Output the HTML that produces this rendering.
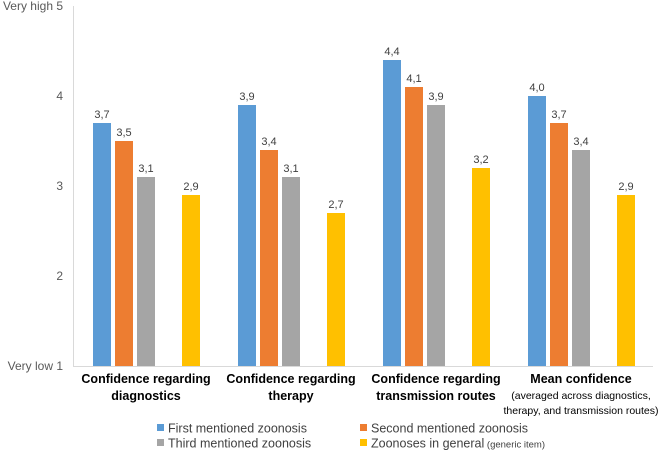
<!DOCTYPE html>
<html><head><meta charset="utf-8"><style>
body{margin:0;background:#fff;font-family:"Liberation Sans",sans-serif}
svg text{font-family:"Liberation Sans",sans-serif}
</style></head><body>
<svg id="chart" width="669" height="451">
<g id="axes"></g><g id="bars"></g><g id="labels"></g><g id="legend"></g>
</svg>
<script>
const categories=[["Confidence regarding","diagnostics"],["Confidence regarding","therapy"],["Confidence regarding","transmission routes"],["Mean confidence",""]];
const first=[3.7,3.9,4.4,4.0];
const second=[3.5,3.4,4.1,3.7];
const third=[3.1,3.1,3.9,3.4];
const general=[2.9,2.7,3.2,2.9];
const ticks=[1,2,3,4,5];
const seriesNames=["First mentioned zoonosis","Second mentioned zoonosis","Third mentioned zoonosis","Zoonoses in general"];
const colors=["#5b9bd5","#ed7d31","#a5a5a5","#ffc000"];
const NS="http://www.w3.org/2000/svg";
function y(v){return 366-(v-1)*90;}
function gx(i){return 93+i*145;}
const offs=[0,22,44,89];
function mk(tag,attrs,parent,txt){const e=document.createElementNS(NS,tag);for(const k in attrs)e.setAttribute(k,attrs[k]);if(txt!==undefined)e.textContent=txt;parent.appendChild(e);return e;}
const axes=document.getElementById('axes'),bars=document.getElementById('bars'),labels=document.getElementById('labels'),legend=document.getElementById('legend');
let l=mk('line',{x1:73.5,y1:6,x2:73.5,y2:366.5,stroke:'#d9d9d9'},axes);


l=mk('line',{x1:73,y1:366.5,x2:653,y2:366.5,stroke:'#d9d9d9'},axes);


ticks.forEach(t=>{
  let lab=t===5?"Very high  5":t===1?"Very low  1":String(t);
  let e=mk('text',{x:63,y:y(t)+4,'text-anchor':'end','font-size':12,fill:'#595959'},axes,lab);
  
  
});
const series=[first,second,third,general];
series.forEach((s,si)=>{s.forEach((v,i)=>{
  const x=gx(i)+offs[si];
  let r=mk('rect',{x:x,y:y(v),width:18,height:366-y(v),fill:colors[si]},bars);
  
  
  let t=mk('text',{x:x+9,y:y(v)-5,'text-anchor':'middle','font-size':11,fill:'#404040'},labels,v.toFixed(1).replace('.',','));
  
  
});});
categories.forEach((c,i)=>{
  const cx=gx(i)+53;
  let t=mk('text',{x:cx,y:383,'text-anchor':'middle','font-size':12.5,'font-weight':'bold',fill:'#000'},labels,c[0]);
  
  
  if(c[1]){t=mk('text',{x:cx,y:400,'text-anchor':'middle','font-size':12.5,'font-weight':'bold',fill:'#000'},labels,c[1]);
  
  }
});
let sub=mk('text',{x:gx(3)+53,y:399,'text-anchor':'middle','font-size':10.5,fill:'#000'},labels,"(averaged across diagnostics,");


sub=mk('text',{x:gx(3)+53,y:414,'text-anchor':'middle','font-size':10.5,fill:'#000'},labels,"therapy, and transmission routes)");


const lpos=[[157,428],[360,428],[157,443],[360,443]];
seriesNames.forEach((n,i)=>{
  const g=mk('g',{},legend);
  
  
  mk('rect',{x:lpos[i][0],y:lpos[i][1]-4,width:7,height:7,fill:colors[i]},g);
  const t=mk('text',{x:lpos[i][0]+11,y:lpos[i][1]+4.5,'font-size':12.5,fill:'#404040'},g,n);
  if(i===3){const ts=mk('tspan',{'font-size':9.5},t," (generic item)");}
});
</script>
</body></html>
